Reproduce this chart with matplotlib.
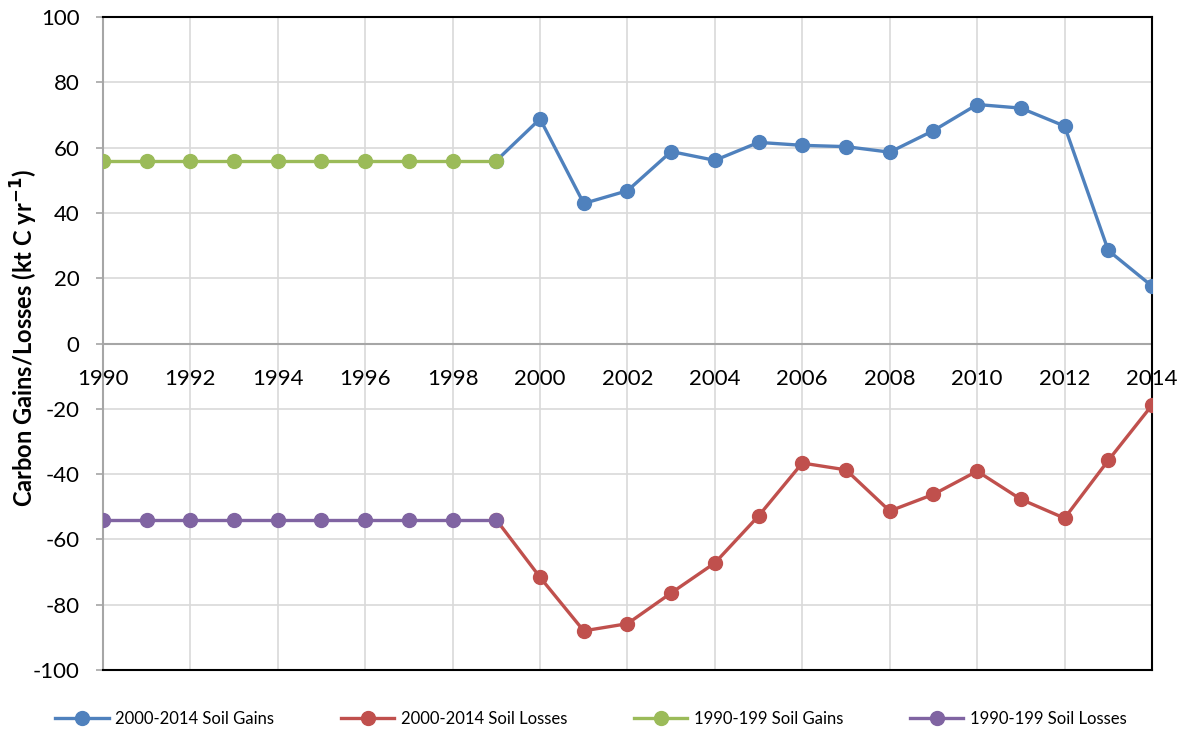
import matplotlib
matplotlib.use('Agg')
import matplotlib.pyplot as plt
from matplotlib.ticker import FuncFormatter

plt.rcParams['font.family'] = ['Lato', 'DejaVu Sans']

years_old = [1990, 1991, 1992, 1993, 1994, 1995, 1996, 1997, 1998, 1999]
gains_old = [56, 56, 56, 56, 56, 56, 56, 56, 56, 56]
losses_old = [-54, -54, -54, -54, -54, -54, -54, -54, -54, -54]

years_new = [1999, 2000, 2001, 2002, 2003, 2004, 2005, 2006, 2007,
             2008, 2009, 2010, 2011, 2012, 2013, 2014]
gains_new = [56, 68.8, 42.9, 46.8, 58.8, 56.1, 61.6, 60.7, 60.3,
             58.6, 65.2, 73.2, 72.1, 66.6, 28.5, 17.6]
losses_new = [-54, -71.6, -88.0, -85.8, -76.4, -67.2, -52.8, -36.6, -38.7,
              -51.3, -46.2, -39.1, -47.7, -53.5, -35.8, -18.9]

xtick_years = list(range(1990, 2015, 2))

blue = '#4F81BD'
red = '#C0504D'
green = '#9BBB59'
purple = '#8064A2'

fig = plt.figure(figsize=(11.82, 7.33), dpi=100)
ax = fig.add_axes([0.0871, 0.0859, 0.8875, 0.8909])

lw = 2.4
ms = 10
ax.plot(years_new, gains_new, color=blue, lw=lw, marker='o', ms=ms, label='2000-2014 Soil Gains', zorder=3)
ax.plot(years_new, losses_new, color=red, lw=lw, marker='o', ms=ms, label='2000-2014 Soil Losses', zorder=3)
ax.plot(years_old, gains_old, color=green, lw=lw, marker='o', ms=ms, label='1990-199 Soil Gains', zorder=4)
ax.plot(years_old, losses_old, color=purple, lw=lw, marker='o', ms=ms, label='1990-199 Soil Losses', zorder=4)

ax.set_xlim(1990, 2014)
ax.set_ylim(-100, 100)
ax.set_yticks(range(-100, 101, 20))
ax.yaxis.set_major_formatter(FuncFormatter(lambda v, p: '%d' % v))
ax.set_xticks(xtick_years)
ax.grid(True, color='#D9D9D9', lw=1.2, zorder=0)
ax.set_axisbelow(True)

for s in ['top', 'right', 'bottom']:
    ax.spines[s].set_color('black')
    ax.spines[s].set_linewidth(1.5)
ax.spines['left'].set_color('#A6A6A6')
ax.spines['left'].set_linewidth(1.5)

ax.tick_params(axis='y', colors='#A6A6A6', length=5, width=1.2, pad=12, labelsize=16, labelcolor='black')
ax.tick_params(axis='x', length=0, labelbottom=False)

# horizontal axis crossing at zero, labels under it
ax.axhline(0, color='#A6A6A6', lw=1.5, zorder=1)
for yr in xtick_years:
    ax.annotate(str(yr), (yr, 0), xytext=(0, -18), textcoords='offset points',
                ha='center', va='top', fontsize=16)

fig.text(0.021, 0.539, 'Carbon Gains/Losses (kt C yr$^{\\mathbf{-1}}$)', fontsize=17,
         fontweight='bold', rotation=90, ha='center', va='center')

fig.legend(loc='center', ncol=4, bbox_to_anchor=(0.5, 0.019), frameon=False,
           fontsize=12, handlelength=3.2, columnspacing=4.0, handletextpad=0.4)

fig.savefig('out.png', dpi=100)
